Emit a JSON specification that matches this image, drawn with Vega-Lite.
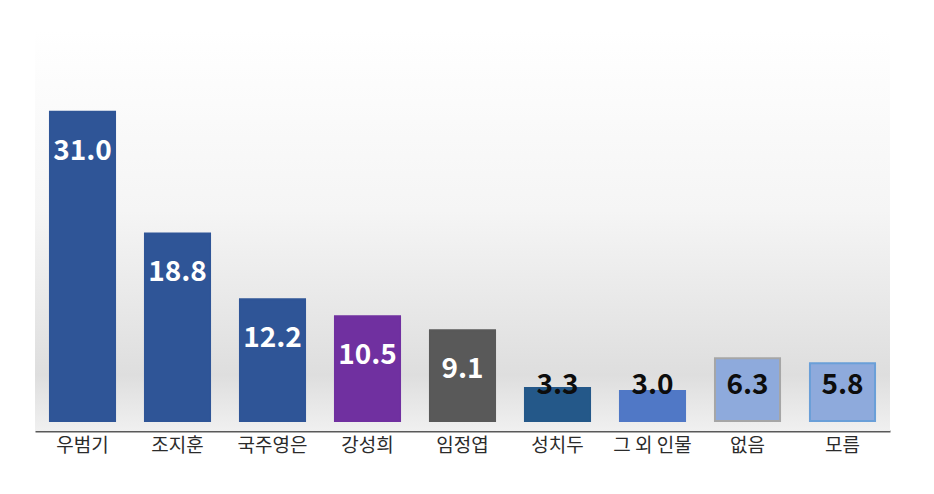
{
  "$schema": "https://vega.github.io/schema/vega-lite/v6.json",
  "autosize": "none",
  "width": 855,
  "height": 401,
  "padding": {"left": 35, "top": 30, "right": 44, "bottom": 63},
  "background": "#ffffff",
  "config": {"view": {"stroke": null}},
  "data": {
    "values": [
      {"name": "우범기", "value": 31.0, "group": "white"},
      {"name": "조지훈", "value": 18.8, "group": "white"},
      {"name": "국주영은", "value": 12.2, "group": "white"},
      {"name": "강성희", "value": 10.5, "group": "white"},
      {"name": "임정엽", "value": 9.1, "group": "white"},
      {"name": "성치두", "value": 3.3, "group": "black"},
      {"name": "그 외 인물", "value": 3.0, "group": "black"},
      {"name": "없음", "value": 6.3, "group": "black"},
      {"name": "모름", "value": 5.8, "group": "black"}
    ]
  },
  "layer": [
    {
      "data": {"values": [{}]},
      "mark": {
        "type": "rect",
        "color": {
          "gradient": "linear",
          "x1": 0, "y1": 0, "x2": 0, "y2": 1,
          "stops": [
            {"offset": 0, "color": "#ffffff"},
            {"offset": 0.45, "color": "#f5f5f5"},
            {"offset": 0.72, "color": "#e6e6e6"},
            {"offset": 0.86, "color": "#dedede"},
            {"offset": 1, "color": "#f0f0f0"}
          ]
        }
      },
      "encoding": {}
    },
    {
      "mark": {"type": "bar", "strokeWidth": 2},
      "encoding": {
        "x": {
          "field": "name",
          "type": "nominal",
          "sort": null,
          "scale": {"paddingInner": 0.315, "paddingOuter": 0.1575},
          "axis": {
            "title": null,
            "labelAngle": 0,
            "labelFont": "Noto Sans CJK KR",
            "labelFontSize": 19,
            "labelColor": "#2b2b2b",
            "labelPadding": 5,
            "ticks": false,
            "domainColor": "#595959",
            "domainWidth": 2
          }
        },
        "y": {
          "field": "value",
          "type": "quantitative",
          "scale": {"domain": [-1, 39.2], "nice": false, "zero": false},
          "axis": null
        },
        "y2": {"datum": 0},
        "color": {
          "field": "name",
          "type": "nominal",
          "sort": null,
          "scale": {
            "domain": ["우범기", "조지훈", "국주영은", "강성희", "임정엽", "성치두", "그 외 인물", "없음", "모름"],
            "range": ["#2f5597", "#2f5597", "#2f5597", "#7030a0", "#595959", "#245889", "#5078c6", "#8eaadc", "#8eaadc"]
          },
          "legend": null
        },
        "stroke": {
          "field": "name",
          "type": "nominal",
          "sort": null,
          "scale": {
            "domain": ["우범기", "조지훈", "국주영은", "강성희", "임정엽", "성치두", "그 외 인물", "없음", "모름"],
            "range": ["#2f5597", "#2f5597", "#2f5597", "#7030a0", "#595959", "#245889", "#5078c6", "#a6a6a6", "#6a9fd8"]
          },
          "legend": null
        }
      }
    },
    {
      "transform": [{"filter": "datum.group === 'white'"}],
      "mark": {
        "type": "text",
        "font": "Noto Sans CJK KR",
        "fontWeight": "bold",
        "fontSize": 28,
        "color": "#ffffff",
        "baseline": "middle",
        "dy": 40
      },
      "encoding": {
        "x": {"field": "name", "type": "nominal", "sort": null},
        "y": {"field": "value", "type": "quantitative"},
        "text": {"field": "value", "type": "quantitative", "format": ".1f"}
      }
    },
    {
      "transform": [{"filter": "datum.group === 'black'"}],
      "mark": {
        "type": "text",
        "font": "Noto Sans CJK KR",
        "fontWeight": "bold",
        "fontSize": 28,
        "color": "#0d0d0d",
        "baseline": "middle"
      },
      "encoding": {
        "x": {"field": "name", "type": "nominal", "sort": null},
        "y": {"datum": 3.55, "type": "quantitative"},
        "text": {"field": "value", "type": "quantitative", "format": ".1f"}
      }
    }
  ]
}
